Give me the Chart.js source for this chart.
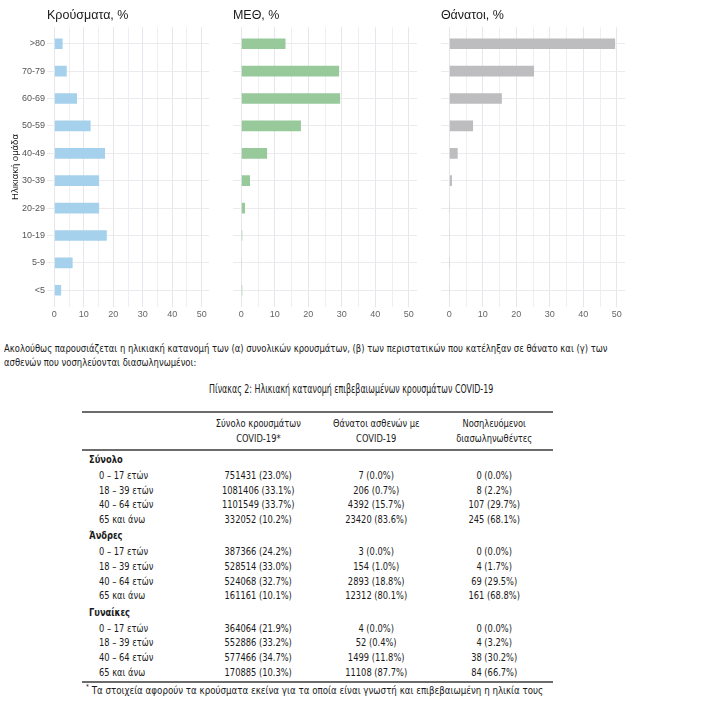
<!DOCTYPE html>
<html lang="el">
<head>
<meta charset="utf-8">
<title>Ηλικιακή κατανομή κρουσμάτων</title>
<script src="https://cdn.jsdelivr.net/npm/chart.js@4.4.1/dist/chart.umd.min.js"></script>
<style>
  html, body { margin: 0; padding: 0; background: #fff; }
  body {
    width: 703px; height: 714px; position: relative; overflow: hidden;
    font-family: "Liberation Sans Narrow", "DejaVu Sans Condensed", sans-serif;
    color: #1a1a1a;
  }
  .panel { position: absolute; top: 0; }
  .sq { display: inline-block; transform-origin: left center; white-space: nowrap; }
  #para { position: absolute; left: 4px; top: 341px; font-size: 10.5px; line-height: 14px; transform: scaleX(0.893); }
  #caption { position: absolute; left: 209px; top: 380.5px; font-size: 11.5px; line-height: 16px; transform: scaleX(0.765); }

  #tbl { position: absolute; left: 82px; top: 411px; width: 471px; font-size: 10.5px; }
  #tbl .r { display: flex; height: 14.7px; line-height: 14.7px; }
  #tbl .r > span { display: block; text-align: center; white-space: nowrap; }
  #tbl .c0 { width: 117px; text-align: left !important; padding-left: 17px; box-sizing: border-box; }
  #tbl .cn { width: 118px; }
  #tbl .r .in { display: inline-block; transform: scaleX(0.88); transform-origin: center center; }
  #tbl .c0 .in { transform-origin: left center; }
  #tbl .hdr {
    height: auto; line-height: 14.5px; padding: 3px 0 3.5px;
    border-top: 2px solid #6b6b6b; border-bottom: 2px solid #6b6b6b;
  }
  #tbl .grp { height: 17.5px; line-height: 14.4px; padding-top: 1.5px; box-sizing: border-box; }
  #tbl .grp .c0 { padding-left: 7px; font-weight: bold; }
  #tbl .last { border-bottom: 2px solid #6b6b6b; height: 16.7px; }

  #note { position: absolute; left: 86px; top: 680px; font-size: 10.5px; line-height: 14px; transform: scaleX(0.92); }
  #note sup { font-size: 7px; vertical-align: 5px; margin-right: 3px; }
</style>
</head>
<body>

<div class="panel" style="left:0px"><canvas id="chart-cases" width="212" height="326"></canvas></div>
<div class="panel" style="left:220px"><canvas id="chart-icu" width="200" height="326"></canvas></div>
<div class="panel" style="left:428px"><canvas id="chart-deaths" width="200" height="326"></canvas></div>

<div id="para" class="sq">Ακολούθως παρουσιάζεται η ηλικιακή κατανομή των (α) συνολικών κρουσμάτων, (β) των περιστατικών που κατέληξαν σε θάνατο και (γ) των<br>ασθενών που νοσηλεύονται διασωληνωμένοι:</div>

<div id="caption" class="sq">Πίνακας 2: Ηλικιακή κατανομή επιβεβαιωμένων κρουσμάτων COVID-19</div>

<div id="tbl">
  <div class="r hdr"><span class="c0"></span><span class="cn"><span class="in">Σύνολο κρουσμάτων<br>COVID-19*</span></span><span class="cn"><span class="in">Θάνατοι ασθενών με<br>COVID-19</span></span><span class="cn"><span class="in">Νοσηλευόμενοι<br>διασωληνωθέντες</span></span></div>
  <div class="r grp"><span class="c0"><span class="in">Σύνολο</span></span></div>
  <div class="r"><span class="c0"><span class="in">0 – 17 ετών</span></span><span class="cn"><span class="in">751431 (23.0%)</span></span><span class="cn"><span class="in">7 (0.0%)</span></span><span class="cn"><span class="in">0 (0.0%)</span></span></div>
  <div class="r"><span class="c0"><span class="in">18 – 39 ετών</span></span><span class="cn"><span class="in">1081406 (33.1%)</span></span><span class="cn"><span class="in">206 (0.7%)</span></span><span class="cn"><span class="in">8 (2.2%)</span></span></div>
  <div class="r"><span class="c0"><span class="in">40 – 64 ετών</span></span><span class="cn"><span class="in">1101549 (33.7%)</span></span><span class="cn"><span class="in">4392 (15.7%)</span></span><span class="cn"><span class="in">107 (29.7%)</span></span></div>
  <div class="r"><span class="c0"><span class="in">65 και άνω</span></span><span class="cn"><span class="in">332052 (10.2%)</span></span><span class="cn"><span class="in">23420 (83.6%)</span></span><span class="cn"><span class="in">245 (68.1%)</span></span></div>
  <div class="r grp"><span class="c0"><span class="in">Άνδρες</span></span></div>
  <div class="r"><span class="c0"><span class="in">0 – 17 ετών</span></span><span class="cn"><span class="in">387366 (24.2%)</span></span><span class="cn"><span class="in">3 (0.0%)</span></span><span class="cn"><span class="in">0 (0.0%)</span></span></div>
  <div class="r"><span class="c0"><span class="in">18 – 39 ετών</span></span><span class="cn"><span class="in">528514 (33.0%)</span></span><span class="cn"><span class="in">154 (1.0%)</span></span><span class="cn"><span class="in">4 (1.7%)</span></span></div>
  <div class="r"><span class="c0"><span class="in">40 – 64 ετών</span></span><span class="cn"><span class="in">524068 (32.7%)</span></span><span class="cn"><span class="in">2893 (18.8%)</span></span><span class="cn"><span class="in">69 (29.5%)</span></span></div>
  <div class="r"><span class="c0"><span class="in">65 και άνω</span></span><span class="cn"><span class="in">161161 (10.1%)</span></span><span class="cn"><span class="in">12312 (80.1%)</span></span><span class="cn"><span class="in">161 (68.8%)</span></span></div>
  <div class="r grp"><span class="c0"><span class="in">Γυναίκες</span></span></div>
  <div class="r"><span class="c0"><span class="in">0 – 17 ετών</span></span><span class="cn"><span class="in">364064 (21.9%)</span></span><span class="cn"><span class="in">4 (0.0%)</span></span><span class="cn"><span class="in">0 (0.0%)</span></span></div>
  <div class="r"><span class="c0"><span class="in">18 – 39 ετών</span></span><span class="cn"><span class="in">552886 (33.2%)</span></span><span class="cn"><span class="in">52 (0.4%)</span></span><span class="cn"><span class="in">4 (3.2%)</span></span></div>
  <div class="r"><span class="c0"><span class="in">40 – 64 ετών</span></span><span class="cn"><span class="in">577466 (34.7%)</span></span><span class="cn"><span class="in">1499 (11.8%)</span></span><span class="cn"><span class="in">38 (30.2%)</span></span></div>
  <div class="r last"><span class="c0"><span class="in">65 και άνω</span></span><span class="cn"><span class="in">170885 (10.3%)</span></span><span class="cn"><span class="in">11108 (87.7%)</span></span><span class="cn"><span class="in">84 (66.7%)</span></span></div>
</div>

<div id="note" class="sq"><sup>*</sup>Τα στοιχεία αφορούν τα κρούσματα εκείνα για τα οποία είναι γνωστή και επιβεβαιωμένη η ηλικία τους</div>

<script>
  // age groups, top to bottom as drawn
  var ageGroups = ['>80', '70-79', '60-69', '50-59', '40-49', '30-39', '20-29', '10-19', '5-9', '<5'];

  // percentages
  var casesPct  = [2.8, 4.2, 7.7, 12.3, 17.2, 15.2, 15.2, 17.8, 6.2, 2.3];
  var icuPct    = [13.2, 29.2, 29.5, 17.8, 7.7, 2.6, 1.1, 0.3, 0.2, 0.3];
  var deathsPct = [49.5, 25.3, 15.7, 7.1, 2.5, 0.8, 0.2, 0.1, 0.05, 0.1];

  var xLabels = [0, 10, 20, 30, 40, 50];
  var xGridSteps = [0, 5, 10, 15, 20, 25, 30, 35, 40, 45, 50];

  var FONT = '"Liberation Sans", Arial, sans-serif';

  function makeChart(id, title, values, color, showY, yWidth, padRight) {
    var ctx = document.getElementById(id);
    return new Chart(ctx, {
      type: 'bar',
      data: {
        datasets: [{
          data: values.map(function (v, i) { return { x: v, y: i }; }),
          backgroundColor: color,
          borderWidth: 0,
          categoryPercentage: 1,
          barPercentage: 0.39
        }]
      },
      options: {
        indexAxis: 'y',
        responsive: false,
        animation: false,
        layout: { padding: { left: 0, right: padRight, top: 0, bottom: 0 } },
        plugins: {
          legend: { display: false },
          tooltip: { enabled: false },
          title: {
            display: true,
            text: title,
            align: 'start',
            fullSize: false,
            color: '#1a1a1a',
            font: { family: FONT, size: 12.5, weight: 'normal' },
            padding: { top: 8, bottom: 4.3 }
          }
        },
        scales: {
          x: {
            type: 'linear',
            offset: false,
            min: -2.5,
            max: 52.5,
            afterBuildTicks: function (s) {
              s.ticks = xGridSteps.map(function (v) { return { value: v }; });
            },
            afterFit: function (s) {
              s.height = 19.3;
              s.paddingLeft = 0; s.paddingRight = 0;
            },
            ticks: {
              autoSkip: false,
              maxRotation: 0,
              padding: 2,
              color: '#666',
              font: { family: FONT, size: 9 },
              callback: function (v) { return xLabels.indexOf(v) >= 0 ? String(v) : ''; }
            },
            grid: {
              offset: false,
              drawTicks: false,
              color: function (c) {
                return c.tick && c.tick.value % 10 === 0 ? '#e6e6ec' : '#efeff3';
              },
              lineWidth: 1
            },
            border: { display: false }
          },
          y: {
            type: 'linear',
            offset: false,
            reverse: true,
            min: -0.6,
            max: 9.6,
            afterBuildTicks: function (s) {
              s.ticks = ageGroups.map(function (g, i) { return { value: i }; });
            },
            afterFit: function (s) {
              s.width = yWidth;
              s.paddingTop = 0; s.paddingBottom = 0;
            },
            ticks: {
              display: showY,
              autoSkip: false,
              padding: 2,
              color: '#555',
              font: { family: FONT, size: 9 },
              callback: function (v) { return ageGroups[v]; }
            },
            grid: { offset: false, drawTicks: false, color: '#ebebef', lineWidth: 1 },
            border: { display: false },
            title: {
              display: showY,
              text: 'Ηλικιακή ομάδα',
              color: '#1a1a1a',
              font: { family: FONT, size: 9.5 },
              padding: { top: 10, bottom: 0 }
            }
          }
        }
      }
    });
  }

  makeChart('chart-cases', 'Κρούσματα, %', casesPct, '#a6d1ec', true, 47, 3);
  makeChart('chart-icu', 'ΜΕΘ, %', icuPct, '#98c99a', false, 12.9, 2.8);
  makeChart('chart-deaths', 'Θάνατοι, %', deathsPct, '#bdbcbe', false, 12.9, 2.8);
</script>
</body>
</html>
